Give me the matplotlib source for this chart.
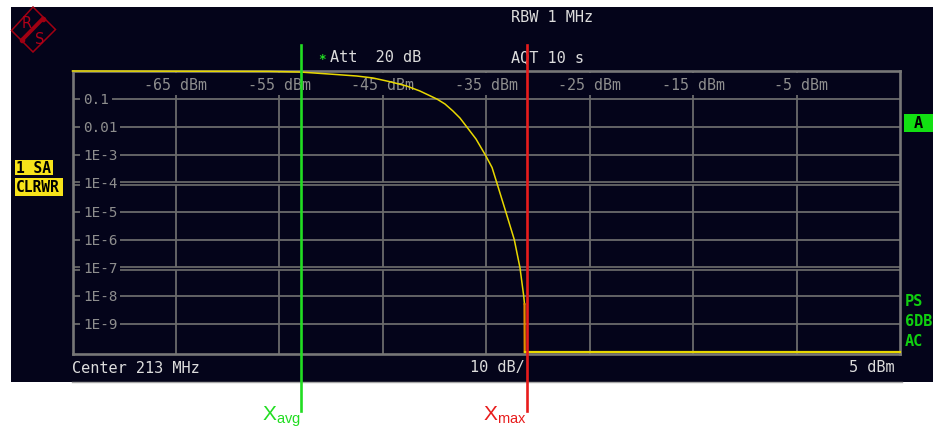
import matplotlib
matplotlib.use("Agg")
import matplotlib.pyplot as plt
from matplotlib import transforms
from matplotlib.patches import Rectangle, Polygon
from matplotlib.ticker import NullLocator

# ---------------- data ----------------
level_dbm = [-75.0, -56.0, -53.0, -49.82, -47.53, -45.95, -44.31, -42.69, -41.41,
             -39.76, -38.99, -38.22, -37.54, -36.86, -35.99, -35.07, -34.44,
             -33.96, -33.12, -32.29, -31.74, -31.38, -31.30, -31.28, 5.0]
ccdf = [1.0, 0.97, 0.92, 0.764, 0.664, 0.564, 0.416, 0.292, 0.194,
        0.1, 0.067, 0.0377, 0.0212, 0.01, 0.0038, 1e-3, 3.68e-4,
        1e-4, 1e-5, 1e-6, 1e-7, 1e-8, 5e-9, 1e-10, 1e-10]

x_grid_dbm = [-65, -55, -45, -35, -25, -15, -5]
y_grid = [1e-1, 1e-2, 1e-3, 1e-4, 1e-5, 1e-6, 1e-7, 1e-8, 1e-9]
y_labels = ["0.1", "0.01", "1E-3", "1E-4", "1E-5", "1E-6", "1E-7", "1E-8", "1E-9"]
double_lines = [1e-4, 1e-7]
x_range = [-75, 5]

x_avg = -52.9
x_max = -31.1

# ---------------- style ----------------
W, H = 933, 431
DARK = "#04041a"
GRID = "#6b6b6b"
LBL = "#8e8e8e"
TXT = "#dcdcdc"
YEL = "#e8d800"
GRN = "#22dd22"
RED = "#e81c1c"
plt.rcParams["font.family"] = ["DejaVu Sans Mono"]
plt.rcParams["mathtext.fontset"] = "custom"
plt.rcParams["mathtext.rm"] = "Liberation Sans"

fig = plt.figure(figsize=(W / 100, H / 100), dpi=100)
fig.patch.set_facecolor("white")

# background overlay in pixel coordinates
bg = fig.add_axes([0, 0, 1, 1])
bg.set_xlim(0, W)
bg.set_ylim(H, 0)
bg.axis("off")
bg.add_patch(Rectangle((11, 8), 922, 375, color=DARK, lw=0))
bg.plot([72, 902], [383, 383], color="#a8a8a8", lw=1.0)

# R&S logo
LOGO = "#a00012"
bg.add_patch(Polygon([(33, 8), (55.5, 30.5), (33, 53), (11.5, 31.5)], closed=True,
                     fill=False, ec=LOGO, lw=1.1))
bg.plot([22, 43], [41, 19.5], color=LOGO, lw=2.8, solid_capstyle="round")
bg.plot([22, 43], [41, 19.5], "o", color=LOGO, ms=3)
bg.text(26.5, 23.5, "R", color="#b00018", fontsize=10.5, ha="center", va="center",
        family="DejaVu Sans")
bg.text(40, 39.5, "S", color="#b00018", fontsize=10.5, ha="center", va="center",
        family="DejaVu Sans")

# header texts
bg.text(511, 18, "RBW 1 MHz", color=TXT, fontsize=11, ha="left", va="center")
bg.text(330, 58, "Att  20 dB", color=TXT, fontsize=11, ha="left", va="center")
bg.text(322, 60, "*", color=GRN, fontsize=9, ha="center", va="center", weight="bold")
bg.text(511, 58, "AQT 10 s", color=TXT, fontsize=11, ha="left", va="center")

# bottom strip texts
bg.text(72, 369, "Center 213 MHz", color=TXT, fontsize=11, ha="left", va="center")
bg.text(525, 368, "10 dB/", color=TXT, fontsize=11, ha="right", va="center")
bg.text(895, 368, "5 dBm", color=TXT, fontsize=11, ha="right", va="center")

# left yellow labels
bg.add_patch(Rectangle((15, 161), 38, 15, color="#f7e31a", lw=0))
bg.text(16.5, 168.5, "1 SA", color="black", fontsize=10.5, weight="bold",
        ha="left", va="center")
bg.add_patch(Rectangle((15, 179), 48, 18, color="#f7e31a", lw=0))
bg.text(16, 188, "CLRWR", color="black", fontsize=10.5, weight="bold",
        ha="left", va="center")

# right green labels
bg.add_patch(Rectangle((904, 115), 29, 18, color="#12e012", lw=0))
bg.text(918.5, 124, "A", color="black", fontsize=11, weight="bold",
        ha="center", va="center")
for ypix, s in [(302, "PS"), (322, "6DB"), (342, "AC")]:
    bg.text(905, ypix, s, color="#10d010", fontsize=11, weight="bold",
            ha="left", va="center")

# ---------------- main axes ----------------
ax = fig.add_axes([72.5 / W, (H - 355) / H, 827.5 / W, 283 / H])
ax.set_facecolor("none")
ax.set_yscale("log")
ax.set_xlim(*x_range)
ax.set_ylim(10 ** -10.07, 1.0)
ax.set_xticks([])
ax.set_yticks([])
ax.yaxis.set_minor_locator(NullLocator())
for sp in ax.spines.values():
    sp.set_color("#777777")
    sp.set_linewidth(1.9)
    sp.set_zorder(3)

tr_x = transforms.blended_transform_factory(ax.transData, ax.transAxes)
tr_y = transforms.blended_transform_factory(ax.transAxes, ax.transData)

for v in x_grid_dbm:
    ax.axvline(v, color=GRID, lw=1.3, zorder=1)
    ax.text(v, 0.954, f"{v:>3d} dBm", transform=tr_x, color=LBL, fontsize=10.8,
            ha="center", va="center", zorder=2,
            bbox=dict(boxstyle="square,pad=0.22", fc=DARK, ec="none"))

for p, lab in zip(y_grid, y_labels):
    if p in double_lines:
        ax.axhline(p, color=GRID, lw=3.4, zorder=1)
        ax.axhline(p, color=DARK, lw=0.9, zorder=1.1)
    else:
        ax.axhline(p, color=GRID, lw=1.3, zorder=1)
    ax.text(0.0127, p, lab, transform=tr_y, color=LBL, fontsize=10.3,
            ha="left", va="center", zorder=2,
            bbox=dict(boxstyle="square,pad=0.2", fc=DARK, ec="none"))

# CCDF trace
ax.plot(level_dbm[:-2], ccdf[:-2], color=YEL, lw=1.1, zorder=6, clip_on=False)
ax.plot(level_dbm[-3:-1], ccdf[-3:-1], color="#e88a00", lw=1.6, zorder=6, clip_on=False)
ax.plot(level_dbm[-2:], ccdf[-2:], color=YEL, lw=1.6, zorder=6, clip_on=False)

# marker lines
for xv, col, sub in [(x_avg, GRN, "avg"), (x_max, RED, "max")]:
    ax.plot([xv, xv], [-0.2014, 1.0919], transform=tr_x, color=col, lw=1.9,
            zorder=7, clip_on=False)
    ax.text(xv, -0.2297, r"$\mathrm{X}_{\mathrm{" + sub + "}}$", transform=tr_x,
            color=col, fontsize=15, ha="right", va="baseline", zorder=7)

fig.savefig("out.png", dpi=100, facecolor="white")
